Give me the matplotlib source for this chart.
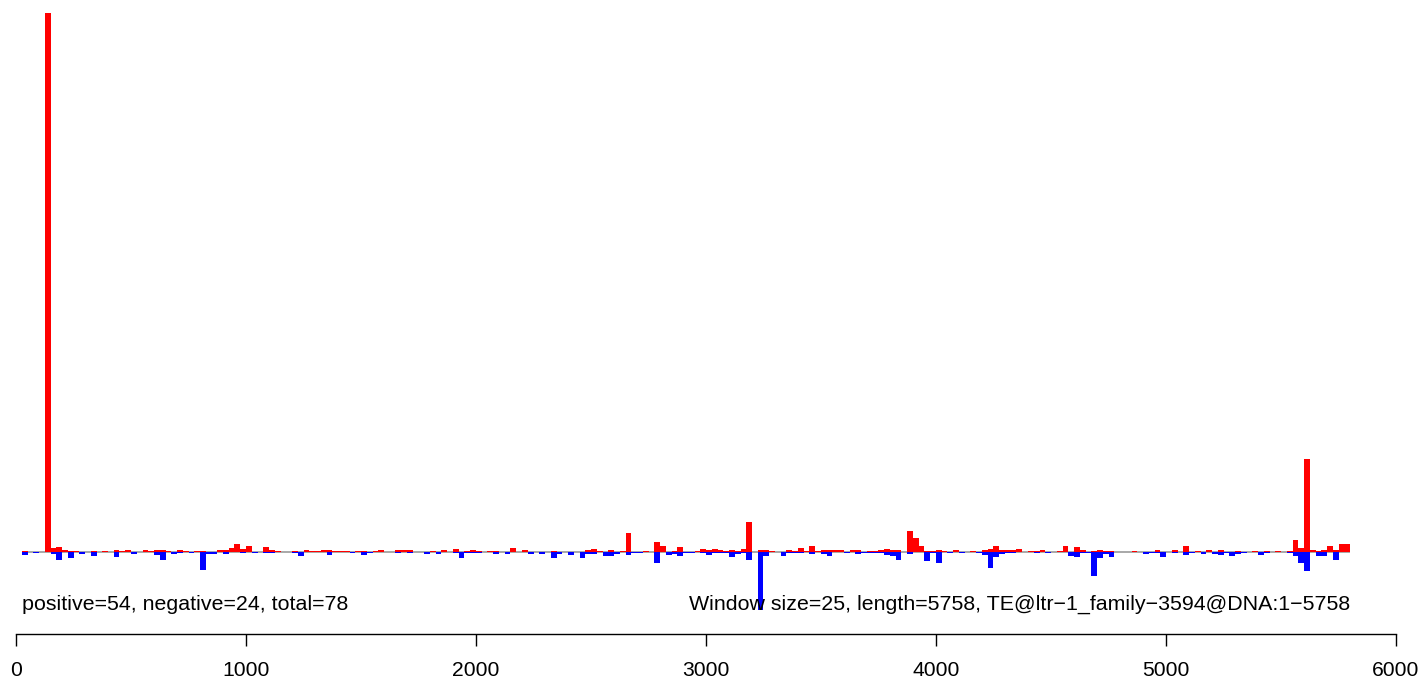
import numpy as np
import matplotlib
matplotlib.use('Agg')
import matplotlib.pyplot as plt
from matplotlib import transforms

# window size and per-window signal (arbitrary units)
window_size = 25
seq_length = 5758

positive = [
    1, 0, 0, 0, 539, 4, 5, 2, 1, 1,
    0, 0, 1, 0, 1, 0, 2, 1, 2, 0,
    0, 2, 1, 2, 2, 1, 0, 2, 1, 0,
    1, 1, 0, 0, 2, 2, 4, 8, 3, 6,
    0, 0, 5, 2, 1, 0, 0, 1, 0, 2,
    1, 1, 2, 2, 1, 1, 1, 0, 1, 1,
    0, 1, 2, 0, 0, 2, 2, 2, 0, 0,
    0, 1, 0, 2, 0, 3, 0, 1, 2, 1,
    0, 1, 1, 0, 0, 4, 0, 2, 0, 0,
    0, 0, 1, 0, 0, 0, 0, 0, 2, 3,
    1, 0, 2, 0, 1, 19, 0, 0, 1, 0,
    10, 6, 0, 1, 5, 0, 0, 1, 3, 2,
    3, 2, 1, 2, 1, 3, 30, 0, 2, 2,
    1, 0, 0, 2, 1, 4, 1, 6, 1, 2,
    2, 2, 2, 0, 2, 2, 0, 1, 1, 2,
    3, 2, 2, 0, 21, 14, 6, 1, 1, 2,
    1, 0, 2, 0, 0, 1, 0, 2, 3, 6,
    2, 2, 2, 3, 0, 1, 1, 2, 0, 0,
    1, 6, 0, 5, 2, 0, 1, 2, 1, 1,
    0, 0, 0, 1, 0, 0, 0, 2, 0, 0,
    2, 0, 6, 0, 1, 0, 2, 0, 2, 0,
    0, 1, 0, 0, 1, 0, 1, 0, 1, 0,
    1, 12, 4, 93, 2, 1, 2, 6, 2, 8,
    8,
]

negative = [
    3, 0, 1, 0, 0, 2, 8, 0, 6, 0,
    2, 0, 4, 0, 0, 0, 5, 0, 0, 2,
    0, 0, 0, 3, 8, 0, 2, 1, 0, 1,
    0, 18, 2, 2, 0, 2, 0, 0, 1, 0,
    1, 0, 1, 1, 0, 0, 0, 1, 4, 0,
    0, 0, 0, 3, 0, 0, 0, 1, 0, 3,
    1, 0, 0, 0, 0, 1, 0, 1, 0, 0,
    2, 0, 2, 0, 0, 1, 6, 1, 1, 1,
    0, 0, 2, 0, 2, 0, 0, 0, 2, 0,
    2, 0, 6, 2, 0, 3, 0, 6, 2, 2,
    0, 4, 4, 2, 0, 3, 1, 1, 0, 0,
    11, 0, 3, 2, 4, 1, 1, 0, 1, 3,
    1, 1, 1, 5, 2, 1, 8, 0, 58, 4,
    0, 0, 4, 1, 1, 1, 0, 2, 0, 2,
    4, 0, 0, 1, 0, 2, 1, 1, 1, 1,
    3, 4, 8, 0, 2, 0, 0, 9, 1, 11,
    0, 1, 0, 1, 0, 0, 1, 3, 16, 5,
    2, 1, 1, 0, 0, 0, 1, 0, 1, 0,
    0, 0, 4, 5, 1, 1, 24, 6, 2, 5,
    0, 0, 0, 0, 0, 2, 1, 1, 5, 0,
    1, 0, 3, 1, 0, 2, 0, 2, 3, 1,
    4, 2, 1, 0, 0, 3, 1, 0, 0, 0,
    1, 4, 11, 19, 0, 4, 4, 0, 8, 0,
    0,
]

n_pos, n_neg = 54, 24
te_name = 'TE@ltr\u22121_family\u22123594@DNA:1\u22125758'

xticks = [0, 1000, 2000, 3000, 4000, 5000, 6000]

plt.rcParams['font.family'] = ['Liberation Sans', 'DejaVu Sans']

W, H = 1424, 685
fig = plt.figure(figsize=(W / 100, H / 100), dpi=100)

# plot region in pixels: x 0..6000 -> 16..1396, y top 13, bottom 610
x_left, x_right = 16, 1396
y_top, y_bot = 13, 610
ax = fig.add_axes([x_left / W, (H - y_bot) / H,
                   (x_right - x_left) / W, (y_bot - y_top) / H])

pos = np.asarray(positive, dtype=float)
neg = np.asarray(negative, dtype=float)
starts = np.arange(1, len(pos) + 1) * window_size

# baseline
ax.plot([starts[0], starts[-1] + window_size], [0, 0], color='#9a9a9a',
        lw=1.2, zorder=1, solid_capstyle='butt')
ax.bar(starts, pos, width=window_size, align='edge', color='#ff0000',
       linewidth=0, zorder=2)
ax.bar(starts, -neg, width=window_size, align='edge', color='#0000ff',
       linewidth=0, zorder=2)

ax.set_xlim(0, 6000)
ax.set_ylim(-neg.max(), pos.max())

for s in ['top', 'right', 'left']:
    ax.spines[s].set_visible(False)
ax.spines['bottom'].set_position(('outward', 24 * 0.72))
ax.spines['bottom'].set_linewidth(1.0)
ax.set_yticks([])
ax.set_xticks(xticks)
ax.set_xticklabels([str(t) for t in xticks])
ax.tick_params(axis='x', direction='out', length=8.6, width=1.0,
               pad=11, labelsize=15.2, color='black')

trans = transforms.blended_transform_factory(ax.transData, fig.transFigure)
y_txt = (H - 610) / H
ax.text(window_size, y_txt,
        'positive=%d, negative=%d, total=%d' % (n_pos, n_neg, n_pos + n_neg),
        transform=trans, ha='left', va='baseline', fontsize=15.4)
ax.text(starts[-1] + window_size, y_txt,
        'Window size=%d, length=%d, %s' % (window_size, seq_length, te_name),
        transform=trans, ha='right', va='baseline', fontsize=15.4)

fig.savefig('out.png', dpi=100)
